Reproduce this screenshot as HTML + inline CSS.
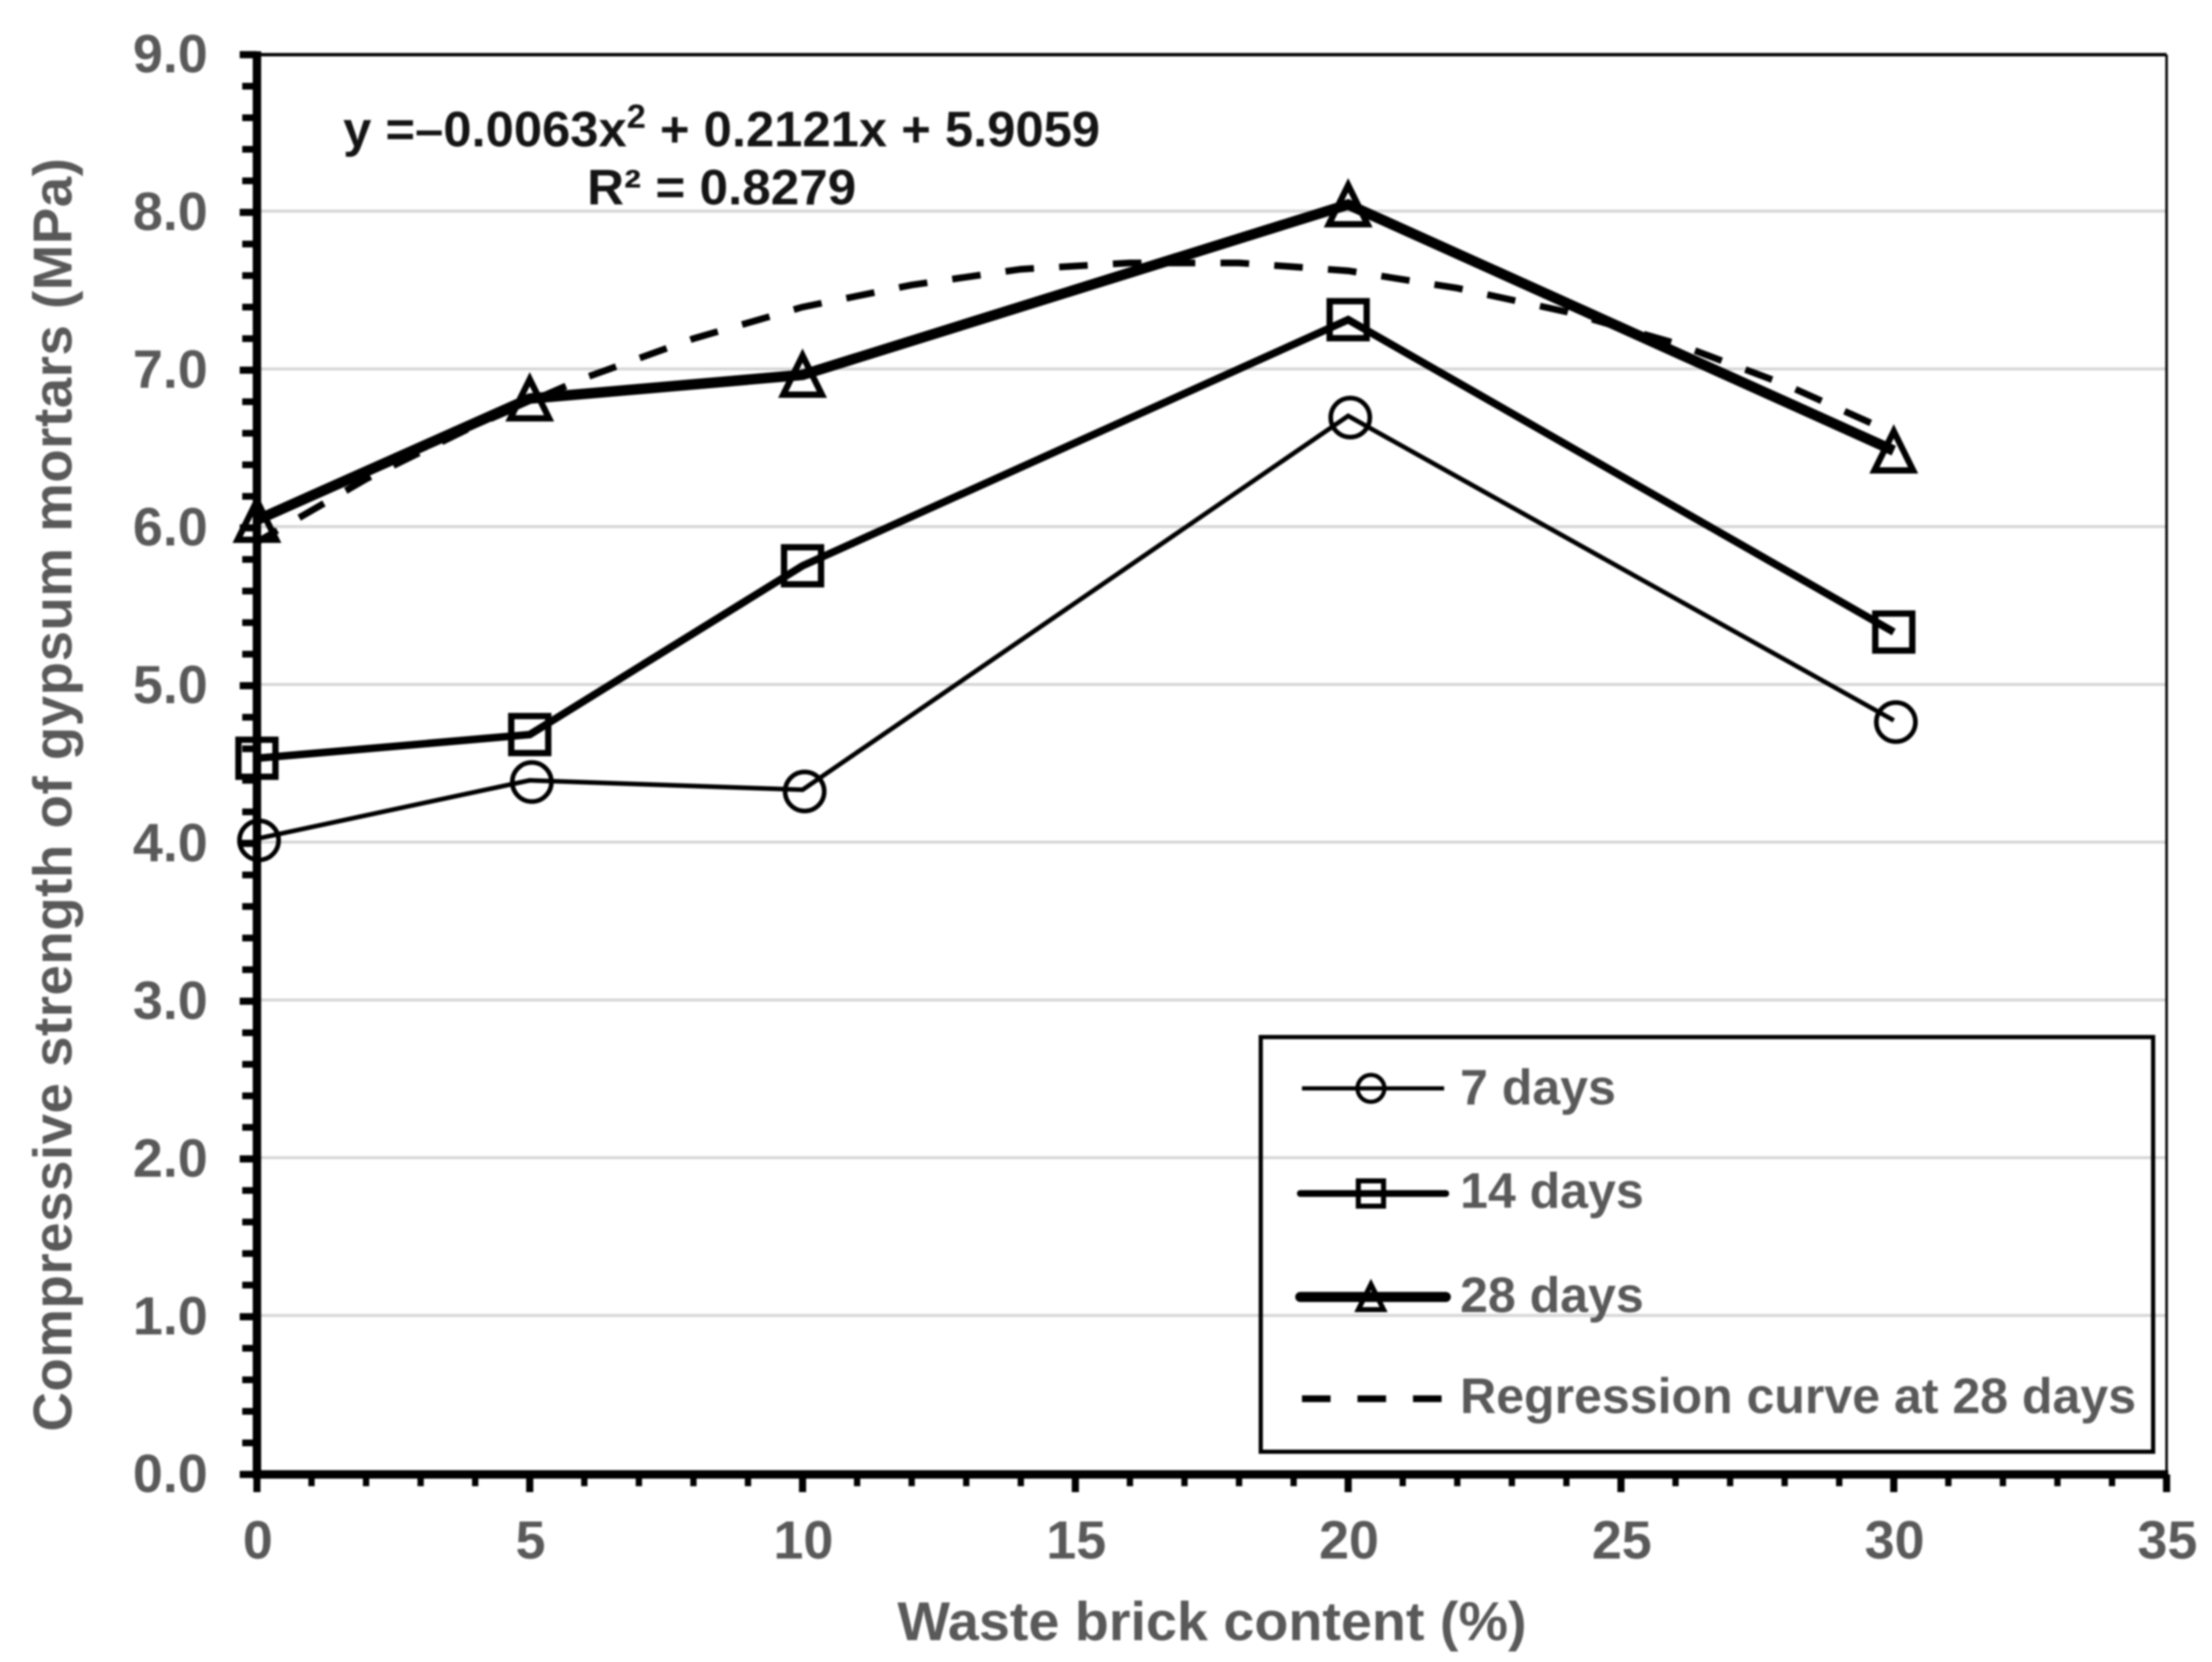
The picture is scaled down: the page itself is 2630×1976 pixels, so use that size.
<!DOCTYPE html>
<html lang="en">
<head>
<meta charset="utf-8">
<title>Compressive strength of gypsum mortars</title>
<style>
html,body{margin:0;padding:0;background:#fff;width:2630px;height:1976px;overflow:hidden}
svg{display:block;filter:blur(1px)}
text{font-family:"Liberation Sans",Arial,sans-serif;font-weight:bold}
.gray{fill:#595959}
.eq{fill:#141414}
</style>
</head>
<body>
<svg id="chart" xmlns="http://www.w3.org/2000/svg" width="2630" height="1976" viewBox="0 0 2630 1976">
  <rect x="0" y="0" width="2630" height="1976" fill="#fff"/>
  <g id="grid"></g>
  <g id="frame"></g>
  <g id="xticks"></g>
  <g id="yticks"></g>
  <g id="series"></g>

  <text class="gray" x="1441" y="1950" font-size="65" text-anchor="middle" textLength="748" lengthAdjust="spacingAndGlyphs">Waste brick content (%)</text>
  <text class="gray" transform="translate(85,945) rotate(-90)" font-size="65" text-anchor="middle" textLength="1514" lengthAdjust="spacing">Compressive strength of gypsum mortars (MPa)</text>

  <text class="eq" x="408" y="174" font-size="59" textLength="900" lengthAdjust="spacingAndGlyphs">y =–0.0063x<tspan dy="-22" font-size="40">2</tspan><tspan dy="22"> + 0.2121x + 5.9059</tspan></text>
  <text class="eq" x="698" y="243" font-size="59" textLength="320" lengthAdjust="spacingAndGlyphs">R² = 0.8279</text>

  <g>
    <rect x="1499" y="1233" width="1061" height="493" fill="none" stroke="#000" stroke-width="5"/>
    <g>
      <line x1="1548" y1="1294" x2="1717" y2="1294" stroke="#000" stroke-width="5"/>
      <circle cx="1630" cy="1294" r="16" fill="none" stroke="#000" stroke-width="5"/>
      <text class="gray" x="1736" y="1313" font-size="59.5">7 days</text>
    </g>
    <g>
      <line x1="1546" y1="1419" x2="1719" y2="1419" stroke="#000" stroke-width="8" stroke-linecap="round"/>
      <rect x="1615" y="1404" width="30" height="30" fill="none" stroke="#000" stroke-width="6"/>
      <text class="gray" x="1736" y="1436" font-size="59.5">14 days</text>
    </g>
    <g>
      <line x1="1546" y1="1542" x2="1719" y2="1542" stroke="#000" stroke-width="12" stroke-linecap="round"/>
      <path d="M1630 1527 L1645 1557 L1615 1557 Z" fill="none" stroke="#000" stroke-width="6"/>
      <text class="gray" x="1736" y="1560" font-size="59.5">28 days</text>
    </g>
    <g>
      <line x1="1548" y1="1663" x2="1716" y2="1663" stroke="#000" stroke-width="8" stroke-dasharray="34 32"/>
      <text class="gray" x="1736" y="1680" font-size="59.5">Regression curve at 28 days</text>
    </g>
  </g>
</svg>
<script>
const xCategories = [0, 5, 10, 20, 30];
const strength7Days = [4.03, 4.40, 4.34, 6.71, 4.78];
const strength14Days = [4.54, 4.69, 5.76, 7.32, 5.34];
const strength28Days = [6.05, 6.82, 6.97, 8.05, 6.49];
const regressionX = [0, 2, 4, 6, 8, 10, 12, 14, 16, 18, 20, 22, 24, 26, 28, 30];
const regressionY = [5.91, 6.31, 6.65, 6.95, 7.20, 7.40, 7.54, 7.64, 7.68, 7.68, 7.63, 7.52, 7.37, 7.17, 6.91, 6.60];
const xTickLabels = ['0', '5', '10', '15', '20', '25', '30', '35'];
const yTickLabels = ['0.0', '1.0', '2.0', '3.0', '4.0', '5.0', '6.0', '7.0', '8.0', '9.0'];

const SVGNS = 'http://www.w3.org/2000/svg';
const plotLeft = 305.5, plotRight = 2576, plotTop = 65, plotBottom = 1753;
const xMin = 0, xMax = 35, yMin = 0, yMax = 9;

function xScale(v) { return plotLeft + (v - xMin) / (xMax - xMin) * (plotRight - plotLeft); }
function yScale(v) { return plotBottom - (v - yMin) / (yMax - yMin) * (plotBottom - plotTop); }
function make(tag, attrs, parent) {
  const node = document.createElementNS(SVGNS, tag);
  for (const k in attrs) node.setAttribute(k, attrs[k]);
  parent.appendChild(node);
  return node;
}

const gGrid = document.getElementById('grid');
const gFrame = document.getElementById('frame');
const gX = document.getElementById('xticks');
const gY = document.getElementById('yticks');
const gSeries = document.getElementById('series');

/* gridlines */
yTickLabels.forEach(function (lab) {
  const v = parseFloat(lab);
  if (v === yMin || v === yMax) return;
  const g = make('line', { x1: plotLeft, x2: plotRight, y1: yScale(v) - 1.5, y2: yScale(v) - 1.5, stroke: '#d6d6d6', 'stroke-width': 3.5 }, gGrid);
  
  
});

/* frame */
const topLine = make('line', { x1: plotLeft, x2: plotRight, y1: plotTop, y2: plotTop, stroke: '#000', 'stroke-width': 4 }, gFrame);


const rightLine = make('line', { x1: plotRight, x2: plotRight, y1: plotTop, y2: plotBottom, stroke: '#000', 'stroke-width': 3 }, gFrame);


const yAxisLine = make('line', { x1: plotLeft, x2: plotLeft, y1: plotTop - 4, y2: plotBottom + 5, stroke: '#000', 'stroke-width': 10 }, gFrame);


const xAxisLine = make('line', { x1: plotLeft - 5, x2: plotRight + 2, y1: plotBottom, y2: plotBottom, stroke: '#000', 'stroke-width': 10 }, gFrame);



/* x ticks: one minor per unit, major per 5 */
for (let v = xMin; v <= xMax; v += 1) {
  const major = v % 5 === 0;
  const t = make('line', { x1: xScale(v), x2: xScale(v), y1: plotBottom, y2: plotBottom + (major ? 21 : 14), stroke: '#000', 'stroke-width': major ? 8.5 : 7.5 }, gX);
  
  
}
xTickLabels.forEach(function (lab) {
  const t = make('text', { x: xScale(parseFloat(lab)) + 1, y: 1853, 'font-size': 64, 'text-anchor': 'middle', 'class': 'gray' }, gX);
  t.textContent = lab;
  
  
});

/* y ticks: minor per 0.2, major per 1 */
for (let i = 0; i <= 45; i += 1) {
  const major = i % 5 === 0;
  const y = yScale(i * 0.2);
  const t = make('line', { x1: major ? 285 : 288, x2: plotLeft, y1: y, y2: y, stroke: '#000', 'stroke-width': major ? 8.5 : 8 }, gY);
  
  
}
yTickLabels.forEach(function (lab) {
  const t = make('text', { x: 247, y: yScale(parseFloat(lab)) + 21, 'font-size': 64, 'text-anchor': 'end', 'class': 'gray' }, gY);
  t.textContent = lab;
  
  
});

function pointsFor(xs, ys) {
  return xs.map(function (x, i) { return xScale(x) + ',' + yScale(ys[i]); }).join(' ');
}

/* regression curve */
const regLine = make('polyline', { points: pointsFor(regressionX, regressionY), fill: 'none', stroke: '#000', 'stroke-width': 8, 'stroke-dasharray': '34 30', 'stroke-dashoffset': -58 }, gSeries);



/* series lines */
const line7 = make('polyline', { points: pointsFor(xCategories, strength7Days), fill: 'none', stroke: '#000', 'stroke-width': 5.5, 'stroke-linejoin': 'miter' }, gSeries);


const line14 = make('polyline', { points: pointsFor(xCategories, strength14Days), fill: 'none', stroke: '#000', 'stroke-width': 9, 'stroke-linejoin': 'miter' }, gSeries);


const line28 = make('polyline', { points: pointsFor(xCategories, strength28Days), fill: 'none', stroke: '#000', 'stroke-width': 12.5, 'stroke-linejoin': 'miter' }, gSeries);



/* markers */
xCategories.forEach(function (x, i) {
  const c = make('circle', { cx: xScale(x) + 2.5, cy: yScale(strength7Days[i]) + 2, r: 23.25, fill: 'none', stroke: '#000', 'stroke-width': 5.5 }, gSeries);
  
  
  const s = make('rect', { x: xScale(x) - 22, y: yScale(strength14Days[i]) - 22, width: 44, height: 44, fill: 'none', stroke: '#000', 'stroke-width': 7.5 }, gSeries);
  
  
  const px = xScale(x), py = yScale(strength28Days[i]);
  const tri = make('path', { d: 'M' + px + ' ' + (py - 23) + ' L' + (px + 23) + ' ' + (py + 23.5) + ' L' + (px - 23) + ' ' + (py + 23.5) + ' Z', fill: 'none', stroke: '#000', 'stroke-width': 7.5 }, gSeries);
  
  
});
</script>
</body>
</html>
